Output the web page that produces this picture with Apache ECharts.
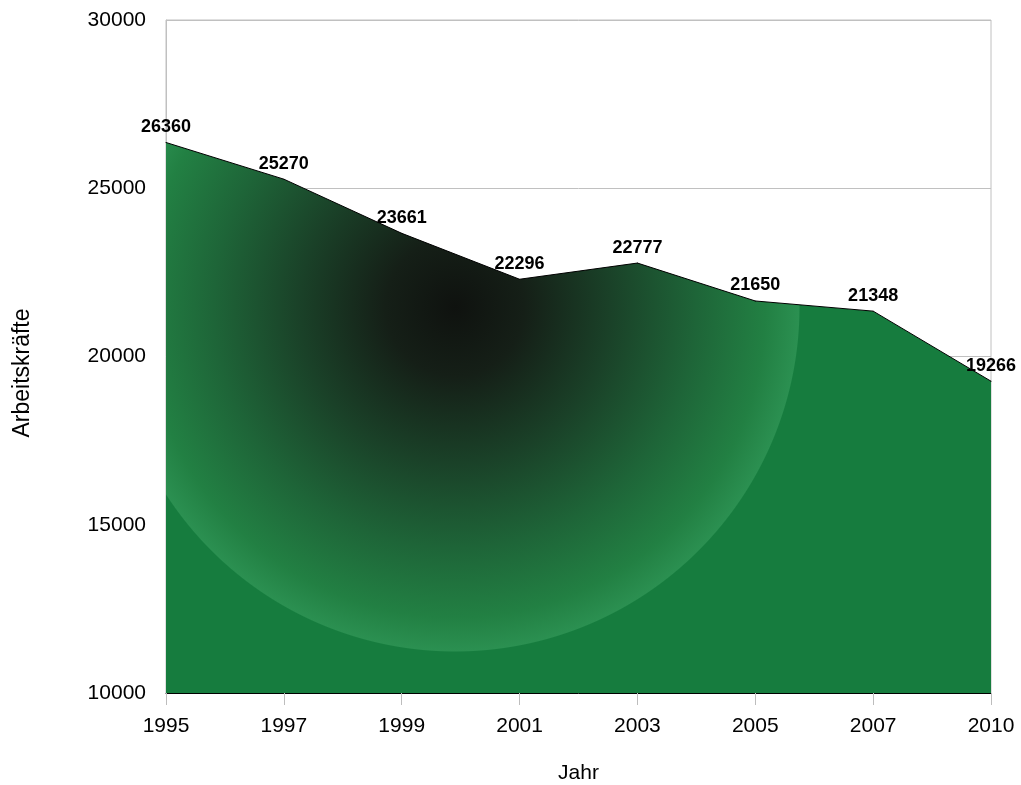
<!DOCTYPE html>
<html>
<head>
<meta charset="utf-8">
<script src="https://cdn.jsdelivr.net/npm/echarts@6/dist/echarts.min.js"></script>
<style>
  html, body { margin: 0; padding: 0; background: #fff; }
  #chart { width: 1021px; height: 785px; }
</style>
</head>
<body>
<div id="chart"></div>
<script>
// Arbeitskräfte pro Jahr
const years = ['1995', '1997', '1999', '2001', '2003', '2005', '2007', '2010'];
const workers = [26360, 25270, 23661, 22296, 22777, 21650, 21348, 19266];
const yTitle = 'Arbeitskräfte';
const xTitle = 'Jahr';

const chart = echarts.init(document.getElementById('chart'));
const font = '"Liberation Sans", Arial, sans-serif';

chart.setOption({
  animation: false,
  grid: {
    left: 166, right: 30, top: 20, bottom: 92,
    outerBoundsMode: 'none',
    containLabel: false,
    show: true, borderColor: '#c0c0c0', borderWidth: 1
  },
  graphic: [{
    type: 'text',
    x: 23, y: 373,
    rotation: Math.PI / 2,
    style: {
      text: yTitle,
      fontFamily: font, fontSize: 23, fill: '#000',
      textAlign: 'center', textVerticalAlign: 'middle'
    }
  }],
  xAxis: {
    type: 'category',
    data: years,
    boundaryGap: false,
    name: xTitle,
    nameLocation: 'middle',
    nameGap: 70,
    nameTextStyle: { fontFamily: font, fontSize: 21, color: '#000' },
    axisLine: { lineStyle: { color: '#000', width: 1 } },
    axisTick: { show: true, length: 12, lineStyle: { color: '#bdbdbd' } },
    axisLabel: { fontFamily: font, fontSize: 21, color: '#000', margin: 23 },
    splitLine: { show: false }
  },
  yAxis: {
    type: 'value',
    min: 10000, max: 30000, interval: 5000,
    axisLine: { show: true, lineStyle: { color: '#c0c0c0' } },
    axisTick: { show: false },
    axisLabel: {
      fontFamily: font, fontSize: 21, color: '#000', margin: 20,
      formatter: v => String(v)
    },
    splitLine: { lineStyle: { color: '#c0c0c0', width: 1 } }
  },
  series: [{
    type: 'line',
    data: workers,
    symbol: 'circle',
    symbolSize: 1,
    showSymbol: true,
    itemStyle: { color: '#000' },
    lineStyle: { color: '#000', width: 1 },
    areaStyle: {
      opacity: 1,
      color: {
        type: 'radial', x: 455, y: 307, r: 345, global: true,
        colorStops: [
          { offset: 0, color: '#0f120f' },
          { offset: 0.2, color: '#151f17' },
          { offset: 0.45, color: '#1a4128' },
          { offset: 0.7, color: '#1e6538' },
          { offset: 0.9, color: '#228043' },
          { offset: 0.997, color: '#2b9051' },
          { offset: 1, color: '#167c3e' }
        ]
      }
    },
    label: {
      show: true,
      position: 'top',
      distance: 6,
      fontFamily: font,
      fontSize: 18,
      fontWeight: 'bold',
      color: '#000'
    }
  }]
});
</script>
</body>
</html>
